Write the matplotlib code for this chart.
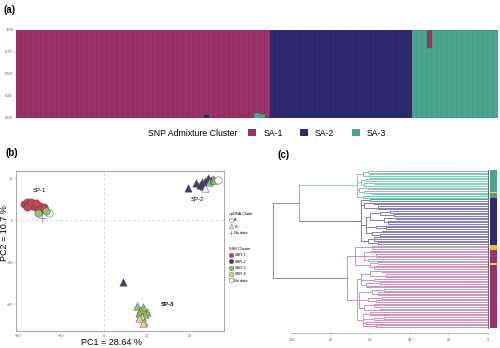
import matplotlib.pyplot as plt
from matplotlib.patches import Patch
from matplotlib.lines import Line2D

plt.rcParams['font.family'] = ['Liberation Sans', 'DejaVu Sans']

# ---- (a) admixture proportions, one bar per individual ----
clusters = ['SA-1', 'SA-2', 'SA-3']
cluster_colors = {'SA-1': '#9b3269', 'SA-2': '#2d2a6e', 'SA-3': '#4ba58c'}
q_sa1 = [1.0] * 37 + [0.97] + [1.0] * 9 + [0.94, 0.95] + [1.0] + [0.0] * 28 + [0.0] * 3 + [0.20] + [0.0] * 13
q_sa2 = [0.0] * 37 + [0.03] + [0.0] * 12 + [1.0] * 28 + [0.0] * 17
q_sa3 = [0.0] * 47 + [0.06, 0.05] + [0.0] + [0.0] * 28 + [1.0] * 3 + [0.80] + [1.0] * 13

# ---- (b) PCA scores ----
pc1 = [-18.6, -18.0, -17.6, -17.2, -16.8, -16.4, -16.0, -15.6, -15.2, -14.8, -14.4, -14.0,
       -17.9, -16.9, -15.9, -14.6, -13.9, -15.3, -12.8, -13.5, -14.4,
       19.5, 21.4, 22.2, 22.8, 23.5, 23.0, 24.2, 24.8, 24.5, 25.3, 25.6, 26.5, 23.4,
       7.7, 9.1, 8.4, 10.0, 9.5, 8.2, 8.8, 9.3, 8.1, 9.0, 4.4]
pc2 = [3.9, 4.2, 3.6, 3.9, 3.4, 3.8, 3.2, 3.6, 3.0, 3.3, 2.8, 3.1,
       3.2, 4.3, 4.0, 2.4, 2.6, 1.8, 1.8, 2.2, 0.6,
       7.6, 8.9, 8.4, 9.0, 9.3, 8.1, 10.1, 9.6, 9.0, 9.9, 9.5, 9.5, 7.6,
       -20.5, -20.7, -21.4, -21.9, -22.4, -22.0, -23.1, -24.3, -23.4, -24.6, -14.8]
clade = ['A'] * 20 + ['No data'] + ['B'] * 11 + ['A', 'B'] + ['B'] * 11
ssr = ['SSR-1'] * 17 + ['SSR-3', 'No data', 'SSR-3', 'No data'] \
    + ['SSR-2'] * 8 + ['SSR-3'] * 3 + ['No data', 'No data'] \
    + ['SSR-3'] * 6 + ['SSR-4'] * 4 + ['SSR-2']
clade_markers = {'A': 'o', 'B': '^', 'No data': '+'}
ssr_colors = {'SSR-1': '#c8464f', 'SSR-2': '#3b3d6b', 'SSR-3': '#93bf6e',
              'SSR-4': '#dcd890', 'No data': '#ffffff'}
group_labels = ['SP-1', 'SP-2', 'SP-3']
group_pos = [(-15.0, 7.0), (21.7, 5.0), (14.8, -20.0)]

# ---- (c) dendrogram: [height, child, child, ...], 'L' = leaf ----
L = 'L'
teal_tree = [67, [64, [61, L, L], [60, L, L, L]],
             [65, [62, L, L], [63, [58, L, L], L]],
             [66, [61, L, L], [63, L, [59, L, L]]],
             [64, L, L]]
navy_tree = [65, [60, L, L],
             [63, [58, L, L], [56, L, L, L]],
             [62, [60, [55, [50, L, L], [48, L, L]], [53, [47, L, L], [51, L, L, L]]],
              [57, L, [52, L, L]], [59, [54, L, L], [55, L, L]]],
             [61, [58, L, L, L], [56, L, L]]]
pink_tree = [72, [68, [59, L, L, L], [63, [60, L, L], [57, L, L, L], [61, L, L]],
                  [60, [56, L, L], [58, L, L, L]]],
             [67, [65, [60, [54, L, L], [52, L, L, L]], [58, L, L], [62, [55, L, L], L, L]],
              [66, [59, [53, L, L], [56, L, L, L]], [61, [54, L, L], [57, L, L]],
               [63, [58, L, L, L], [55, L, L]]],
              [64, [60, L, L, L], [58, [53, L, L], L], [62, L, L], [57, L, L]]]]
upper_height = 96.4
root_height = 109.7
leaf_group = ['SA-3'] * 13 + ['Y'] + ['SA-3'] * 3 + ['SA-2'] * 28 + ['O'] * 3 \
    + ['SA-1'] * 8 + ['Y'] + ['SA-1'] * 38
leaf_colors = {'SA-1': '#9b3269', 'SA-2': '#2d2a6e', 'SA-3': '#4ba58c',
               'O': '#f3b443', 'Y': '#f1d256'}
dist_ticks = [100, 80, 60, 40, 20, 0]

fig = plt.figure(figsize=(5, 3.48), dpi=100)

# (a) stacked bars
ax_a = fig.add_axes([0.032, 0.661, 0.964, 0.253])
x = list(range(len(q_sa1)))
bottom2 = q_sa3
bottom1 = [a + b for a, b in zip(q_sa3, q_sa2)]
edge = (0, 0, 0, 0.12)
ax_a.bar(x, q_sa3, width=1.0, color=cluster_colors['SA-3'], edgecolor=edge, linewidth=0.3)
ax_a.bar(x, q_sa2, width=1.0, bottom=bottom2, color=cluster_colors['SA-2'], edgecolor=edge, linewidth=0.3)
ax_a.bar(x, q_sa1, width=1.0, bottom=bottom1, color=cluster_colors['SA-1'], edgecolor=edge, linewidth=0.3)
ax_a.set_xlim(-0.5, len(x) - 0.5)
ax_a.set_ylim(0, 1)
ax_a.set_yticks([0, 0.25, 0.5, 0.75, 1.0])
ax_a.set_yticklabels(['0.00', '0.25', '0.50', '0.75', '1.00'])
ax_a.tick_params(axis='y', labelsize=3, length=1, width=0.3, pad=1, colors='#555555')
ax_a.set_xticks([])
for s in ax_a.spines.values():
    s.set_visible(False)

fig.text(148 / 500, 1 - 133 / 348, 'SNP Admixture Cluster', fontsize=6.3, va='center')
fig.legend(handles=[Patch(facecolor=cluster_colors[c], label=c) for c in clusters],
           loc='center left', bbox_to_anchor=(244 / 500, 1 - 133 / 348), ncol=3,
           frameon=False, fontsize=6.3, handlelength=0.9, handleheight=0.9,
           handletextpad=0.8, columnspacing=2.0, borderpad=0)

# (b) PCA
ax_b = fig.add_axes([0.032, 0.0489, 0.416, 0.4598])
ax_b.axvline(0, color='#cccccc', lw=0.5, ls=(0, (4, 3)), zorder=0)
ax_b.axhline(0, color='#cccccc', lw=0.5, ls=(0, (4, 3)), zorder=0)
for i in range(len(pc1)):
    m = clade_markers[clade[i]]
    if m == '+':
        ax_b.scatter(pc1[i], pc2[i], marker='+', s=28, color='#777777', linewidths=0.5, zorder=3)
    else:
        ax_b.scatter(pc1[i], pc2[i], marker=m, s=28, facecolor=ssr_colors[ssr[i]],
                     edgecolor='#555555', linewidths=0.35, zorder=3)
for lab, (gx, gy) in zip(group_labels, group_pos):
    ax_b.text(gx, gy, lab, fontsize=4.3, ha='center', va='center',
              fontweight='bold' if lab == 'SP-3' else 'normal')
ax_b.set_xlim(-20.5, 27.9)
ax_b.set_ylim(-26.4, 11.7)
ax_b.set_xticks([-20, -10, 0, 10, 20])
ax_b.set_yticks([-20, -10, 0, 10])
ax_b.tick_params(labelsize=2.8, length=1, width=0.3, pad=1, colors='#666666')
for s in ax_b.spines.values():
    s.set_color('#999999')
    s.set_linewidth(0.6)
ax_b.set_xlabel('PC1 = 28.64 %', fontsize=6.5, va='center')
ax_b.set_ylabel('PC2 = 10.7 %', fontsize=6.5, va='center')
ax_b.xaxis.set_label_coords(0.46, -0.075)
ax_b.yaxis.set_label_coords(-0.054, 0.61)

clade_handles = [Line2D([], [], marker='o', ls='', markerfacecolor='white', markeredgecolor='#555555',
                        markersize=3, markeredgewidth=0.35, label='A'),
                 Line2D([], [], marker='^', ls='', markerfacecolor='white', markeredgecolor='#555555',
                        markersize=3, markeredgewidth=0.35, label='B'),
                 Line2D([], [], marker='+', ls='', color='#777777', markersize=3,
                        markeredgewidth=0.4, label='No data')]
fig.legend(handles=clade_handles, title='cpDNA Clade', loc='upper left',
           bbox_to_anchor=(227 / 500, 1 - 210 / 348), frameon=False, fontsize=2.8,
           title_fontsize=2.8, handlelength=1.0, handletextpad=0.4, labelspacing=0.6,
           borderpad=0, alignment='left')
ssr_handles = [Line2D([], [], marker='o', ls='', markerfacecolor=ssr_colors[k], markeredgecolor='#555555',
                      markersize=3.2, markeredgewidth=0.35, label=k)
               for k in ['SSR-1', 'SSR-2', 'SSR-3', 'SSR-4', 'No data']]
fig.legend(handles=ssr_handles, title='SSR Cluster', loc='upper left',
           bbox_to_anchor=(227 / 500, 1 - 245 / 348), frameon=False, fontsize=2.8,
           title_fontsize=2.8, handlelength=1.0, handletextpad=0.4, labelspacing=0.6,
           borderpad=0, alignment='left')


# (c) dendrogram
ax_c = fig.add_axes([0.54, 0.0431, 0.456, 0.474])
counter = [0]


def draw(node, color, lw=0.75):
    if node == L:
        y = counter[0]
        counter[0] += 1
        return y, 0.0
    h = node[0]
    pts = [draw(k, color, lw) for k in node[1:]]
    ys = [p[0] for p in pts]
    for y, hk in pts:
        ax_c.plot([h, hk], [y, y], color=color, lw=lw, solid_capstyle='butt')
    ax_c.plot([h, h], [min(ys), max(ys)], color=color, lw=lw)
    return (min(ys) + max(ys)) / 2, h


y_t, h_t = draw(teal_tree, '#86c9b7')
y_n, h_n = draw(navy_tree, '#8683b3')
y_p, h_p = draw(pink_tree, '#cf98bf')
y_u = (y_t + y_n) / 2
for y, h, c in [(y_t, h_t, '#86c9b7'), (y_n, h_n, '#6f6c9c')]:
    ax_c.plot([upper_height, h], [y, y], color=c, lw=0.6)
ax_c.plot([upper_height, upper_height], [y_t, y_n], color='#8a9aa0', lw=0.6)
ax_c.plot([root_height, upper_height], [y_u, y_u], color='#7a7a9a', lw=0.6)
ax_c.plot([root_height, h_p], [y_p, y_p], color='#9a6a8e', lw=0.6)
ax_c.plot([root_height, root_height], [y_u, y_p], color='#8a7090', lw=0.6)

n_leaves = len(leaf_group)
ax_c.plot([0, 0], [-0.5, n_leaves - 0.5], color='#555555', lw=0.6)
ax_c.barh(range(n_leaves), 3.6, left=-4.6, height=1.0,
          color=[leaf_colors[g] for g in leaf_group], linewidth=0)
ax_c.set_xlim(111.2, -5.1)
ax_c.set_ylim(97.6, -1.8)
ax_c.set_yticks([])
ax_c.set_xticks(dist_ticks)
ax_c.tick_params(axis='x', labelsize=2.8, length=1.5, width=0.3, pad=2, colors='#666666')
for k in ['top', 'right', 'left']:
    ax_c.spines[k].set_visible(False)
ax_c.spines['bottom'].set_bounds(0, 100)
ax_c.spines['bottom'].set_color('#888888')
ax_c.spines['bottom'].set_linewidth(0.4)

fig.text(3 / 500, 1 - 10 / 348, '(a)', fontsize=7, fontweight='bold', va='center')
fig.text(5 / 500, 1 - 153 / 348, '(b)', fontsize=7, fontweight='bold', va='center')
fig.text(277 / 500, 1 - 155 / 348, '(c)', fontsize=7, fontweight='bold', va='center')

fig.savefig('out.png', dpi=100)
